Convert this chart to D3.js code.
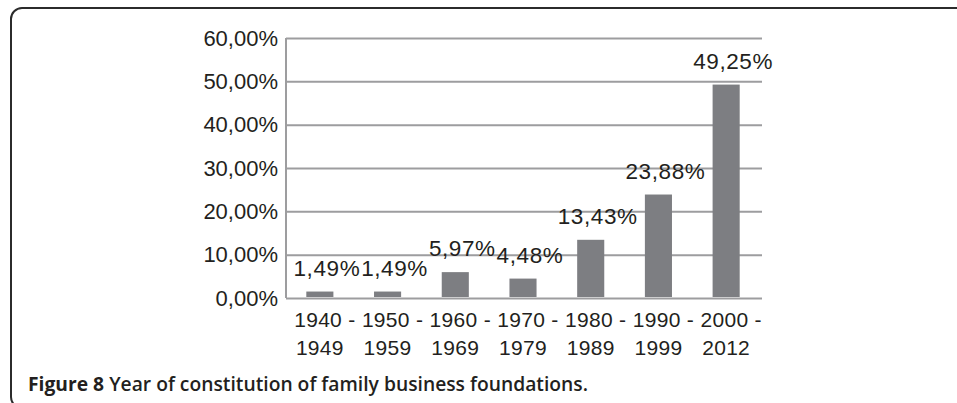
<!DOCTYPE html>
<html>
<head>
<meta charset="utf-8">
<script src="https://cdn.jsdelivr.net/npm/d3@7"></script>
<style>
  html, body { margin: 0; padding: 0; background: #fff; }
  svg { display: block; }
</style>
</head>
<body>
<svg id="chart" width="957" height="403"></svg>
<script>
// données
const periodsTop = ["1940 -", "1950 -", "1960 -", "1970 -", "1980 -", "1990 -", "2000 -"]
const periodsBottom = ["1949", "1959", "1969", "1979", "1989", "1999", "2012"]
const shares = [1.49, 1.49, 5.97, 4.48, 13.43, 23.88, 49.25]
const yTicks = [0, 10, 20, 30, 40, 50, 60]

const fmt = v => v.toFixed(2).replace(".", ",") + "%"
const textColor = "#231f20"
const font = "Liberation Sans, Arial, sans-serif"

const svg = d3.select("#chart")

// cadre arrondi
svg.append("rect")
    .attr("x", 11).attr("y", 8)
    .attr("width", 1000).attr("height", 400)
    .attr("rx", 11)
    .attr("fill", "none")
    .attr("stroke", "#2b2b2b")
    .attr("stroke-width", 2)

const plotLeft = 286, plotRight = 760, plotTop = 38, plotBottom = 298

const x = d3.scaleBand()
    .domain(d3.range(shares.length))
    .range([plotLeft, plotRight])
    .paddingInner(0.6)
    .paddingOuter(0.3)

const y = d3.scaleLinear().domain([0, 60]).range([plotBottom, plotTop])

// grille + axe Y
const yAxis = svg.append("g")
    .attr("transform", `translate(${plotLeft},0)`)
    .call(d3.axisLeft(y).tickValues(yTicks).tickSize(-(plotRight - plotLeft + 2)).tickPadding(8).tickFormat(fmt))
yAxis.select(".domain").remove()
yAxis.selectAll(".tick line").attr("stroke", "#9d9d9f").attr("stroke-width", 2)
yAxis.selectAll(".tick text")
    .attr("fill", textColor)
    .attr("font-family", font)
    .attr("font-size", 22)

// axe vertical
svg.append("line")
    .attr("x1", plotLeft).attr("x2", plotLeft)
    .attr("y1", plotTop).attr("y2", plotBottom)
    .attr("stroke", "#9d9d9f").attr("stroke-width", 2)

// barres
svg.append("g").selectAll("rect")
    .data(shares)
    .join("rect")
    .attr("x", (d, i) => x(i))
    .attr("y", d => y(d))
    .attr("width", x.bandwidth())
    .attr("height", d => plotBottom - 1 - y(d))
    .attr("fill", "#7d7e82")

// étiquettes des valeurs
svg.append("g").selectAll("text")
    .data(shares)
    .join("text")
    .attr("x", (d, i) => x(i) + x.bandwidth() / 2 + 7)
    .attr("y", d => y(d) - 16)
    .attr("text-anchor", "middle")
    .attr("fill", textColor)
    .attr("font-family", font)
    .attr("font-size", 22.5)
    .attr("letter-spacing", 0.6)
    .text(fmt)

// étiquettes des périodes
const xLab = svg.append("g").selectAll("text")
    .data(periodsTop)
    .join("text")
    .attr("text-anchor", "middle")
    .attr("fill", textColor)
    .attr("font-family", font)
    .attr("font-size", 21)
    .attr("letter-spacing", 0.3)
xLab.append("tspan")
    .attr("x", (d, i) => x(i) + x.bandwidth() / 2 + 5)
    .attr("y", 327)
    .text(d => d)
xLab.append("tspan")
    .attr("x", (d, i) => x(i) + x.bandwidth() / 2)
    .attr("y", 355)
    .text((d, i) => periodsBottom[i])

// légende de la figure
const cap = svg.append("text")
    .attr("x", 28).attr("y", 391)
    .attr("fill", textColor)
    .attr("font-family", "Open Sans, Noto Sans, sans-serif")
    .attr("font-size", 19)
    .attr("textLength", 560)
    .attr("lengthAdjust", "spacingAndGlyphs")
cap.append("tspan").attr("font-weight", 700).text("Figure 8")
cap.append("tspan").attr("font-weight", 600).text(" Year of constitution of family business foundations.")
</script>
</body>
</html>
